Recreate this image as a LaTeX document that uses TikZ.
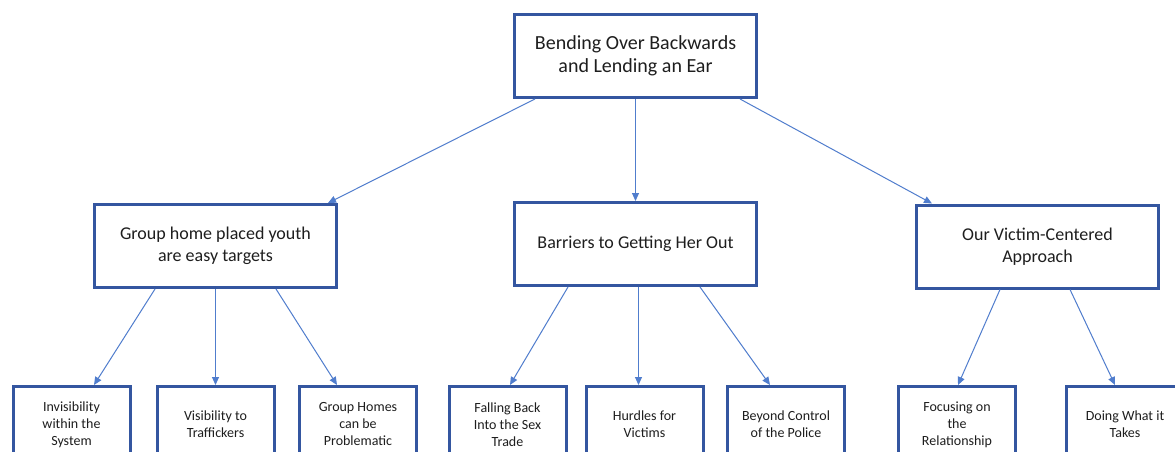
\documentclass[tikz,border=0pt]{standalone}
\usepackage{fontspec}
\setmainfont{Carlito}
\usetikzlibrary{arrows.meta}
\definecolor{boxblue}{RGB}{52,86,160}
\definecolor{linkblue}{RGB}{80,125,205}
\definecolor{txtgray}{RGB}{30,30,30}
\tikzset{
  tree/.style={x=1pt,y=-1pt},
  box/.style={draw=boxblue,line width=3pt,fill=white,inner sep=0pt,align=center,text=txtgray},
  topbox/.style={box,minimum width=242pt,minimum height=83pt,font=\fontsize{20}{23}\selectfont},
  midbox/.style={box,minimum width=242pt,minimum height=83pt,font=\fontsize{18}{21.5}\selectfont},
  leafbox/.style={box,minimum width=117pt,minimum height=76pt,font=\fontsize{14}{17}\selectfont},
  link/.style={linkblue,line width=1pt,-{Triangle[length=8pt,width=7pt]}}
}

\begin{document}
\begin{tikzpicture}[tree]
    \clip (0,0) rectangle (1175,452);
    \fill[white] (0,0) rectangle (1175,452);
    % top and second row
    \node[topbox] (root) at (635.5,56) {Bending Over Backwards\\and Lending an Ear};
    \node[midbox] (youth) at (215.5,246) {Group home placed youth\\are easy targets};
    \node[midbox] (barrier) at (635.5,244) {Barriers to Getting Her Out};
    \node[midbox] (approach) at (1037.5,246.5) {Our Victim-Centered\\Approach};
    % leaves
    \foreach \n/\x/\t in {invis/71.5/{Invisibility\\within the\\System},
                          visib/215.5/{Visibility to\\Traffickers},
                          homes/358/{Group Homes\\can be\\Problematic},
                          fall/507.5/{Falling Back\\Into the Sex\\Trade},
                          hurdle/644.5/{Hurdles for\\Victims},
                          police/786/{Beyond Control\\of the Police},
                          focus/957/{Focusing on\\the\\Relationship},
                          doing/1125/{Doing What it\\Takes}}
      \node[leafbox] (\n) at (\x,424.5) {\t};
    % connectors
    \draw[link] ([xshift=-100.5pt]root.south) -- ([xshift=112.5pt]youth.north);
    \draw[link] (root.south) -- (barrier.north);
    \draw[link] ([xshift=104.5pt]root.south) -- ([xshift=-105.5pt]approach.north);
    \draw[link] ([xshift=-60.5pt]youth.south) -- ([xshift=22.5pt]invis.north);
    \draw[link] (youth.south) -- (visib.north);
    \draw[link] ([xshift=60.5pt]youth.south) -- ([xshift=-21pt]homes.north);
    \draw[link] ([xshift=-67.5pt]barrier.south) -- ([xshift=2.5pt]fall.north);
    \draw[link] ([xshift=3pt]barrier.south) -- ([xshift=-6pt]hurdle.north);
    \draw[link] ([xshift=64.5pt]barrier.south) -- ([xshift=-16pt]police.north);
    \draw[link] ([xshift=-37.5pt]approach.south) -- ([xshift=1pt]focus.north);
    \draw[link] ([xshift=32.5pt]approach.south) -- ([xshift=-10pt]doing.north);
\end{tikzpicture}
\end{document}
